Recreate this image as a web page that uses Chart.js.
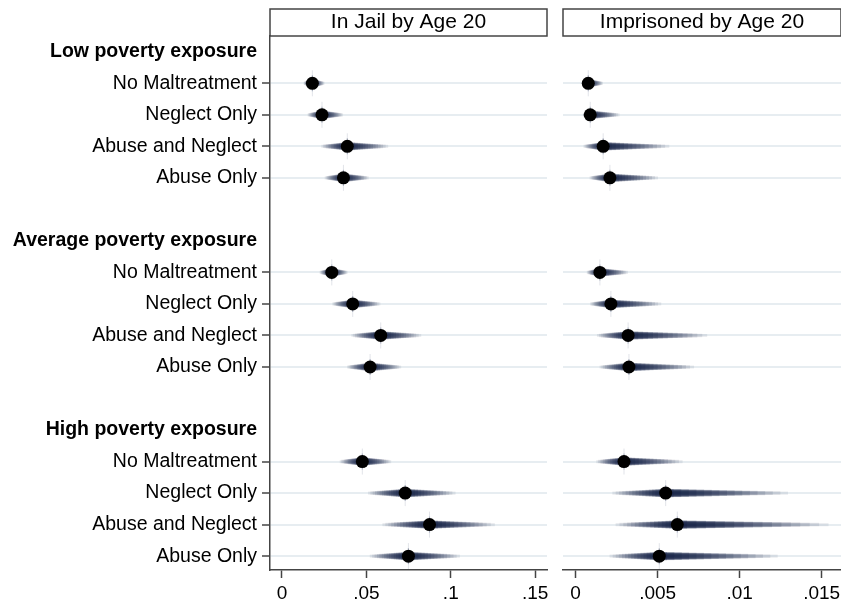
<!DOCTYPE html>
<html>
<head>
<meta charset="utf-8">
<script src="https://cdn.jsdelivr.net/npm/chart.js@4.4.0/dist/chart.umd.min.js"></script>
<style>
  html, body { margin: 0; padding: 0; background: #fff; }
  #wrap { position: relative; width: 841px; height: 605px; }
  canvas { position: absolute; top: 0; }
  #jail { left: 0; }
  #prison { left: 556px; }
</style>
</head>
<body>
<div id="wrap">
  <canvas id="jail" width="556" height="605"></canvas>
  <canvas id="prison" width="285" height="605"></canvas>
</div>

<script>
var groups = ['Low poverty exposure', 'Average poverty exposure', 'High poverty exposure'];
var types = ['No Maltreatment', 'Neglect Only', 'Abuse and Neglect', 'Abuse Only'];

// In Jail by Age 20 -- 4 types for low, average, high poverty
var jailEst = [.018, .0237, .0387, .0364,  .0295, .0419, .0585, .0522,  .0476, .073, .0874, .0749];
var jailLo  = [.013, .0154, .0235, .0255,  .0225, .030, .0413, .0387,  .0344, .0512, .0597, .0522];
var jailHi  = [.025, .036, .0627, .0512,  .0387, .0581, .0823, .0704,  .0645, .1026, .1259, .1052];

// Imprisoned by Age 20
var prisonEst = [.00077, .00089, .00168, .00209,  .00148, .00215, .0032, .00325,  .00295, .00549, .0062, .0051];
var prisonLo  = [.0004, .00046, .0005, .00087,  .0007, .0009, .00132, .00148,  .00128, .00226, .00246, .00209];
var prisonHi  = [.00165, .00266, .00569, .005,  .00317, .0052, .008, .0072,  .0065, .01293, .0154, .0123];

var jailTicks = [0, .05, .1, .15];
var jailTickLabels = ['0', '.05', '.1', '.15'];
var prisonTicks = [0, .005, .01, .015];
var prisonTickLabels = ['0', '.005', '.01', '.015'];

var font = "'Liberation Sans', Arial, sans-serif";

// rows: header, 4 types, blank gap
var rowLabels = [];
groups.forEach(function (g, gi) {
    rowLabels.push(g);
    types.forEach(function (t) { rowLabels.push(t); });
    if (gi < groups.length - 1) rowLabels.push('');
});
function rowOf(k) { return Math.floor(k / 4) * 6 + 1 + k % 4; }
function isHeader(i) { return groups.indexOf(rowLabels[i]) >= 0; }
function isDataRow(i) { return types.indexOf(rowLabels[i]) >= 0; }

// shaded spindle: nested intervals, darker and thicker toward the estimate
var nLayers = 16;

function makeDatasets(est, lo, hi) {
    var pts = est.map(function (v, k) { return { x: v, y: rowOf(k) }; });
    var ds = [];
    ds.push({ type: 'scatter', data: pts, pointRadius: 6.5, pointHoverRadius: 6.5,
        backgroundColor: '#000', borderWidth: 0, order: 0 });
    ds.push({ type: 'scatter', data: pts, pointStyle: 'line', rotation: 90, pointRadius: 8,
        borderColor: 'rgba(40,55,95,0.3)', borderWidth: 1.2, order: 1 });
    ds.push({ type: 'scatter', data: pts, pointStyle: 'line', rotation: 90, pointRadius: 13,
        borderColor: 'rgba(60,75,110,0.15)', borderWidth: 1, order: 1 });
    for (var j = 0; j < nLayers; j++) {
        var t = j / nLayers;
        var f = 1 - t;
        ds.push({
            type: 'bar', indexAxis: 'y', grouped: false, barThickness: 2.5 + 5.5 * t,
            backgroundColor: 'rgba(16,28,66,' + (0.08 + 0.16 * t).toFixed(3) + ')',
            borderWidth: 0, order: 2 + j,
            data: est.map((function (f) {
                return function (v, k) {
                    return { y: rowOf(k), x: [v - (v - lo[k]) * f, v + (hi[k] - v) * f] };
                };
            })(f))
        });
    }
    return ds;
}

var headerBox = {
    id: 'headerBox',
    afterDraw: function (chart) {
        var a = chart.chartArea, c = chart.ctx;
        c.save();
        c.strokeStyle = '#444';
        c.lineWidth = 1.5;
        c.strokeRect(a.left, a.top - 27, a.width, 27);
        c.restore();
    }
};

function makeChart(id, title, est, lo, hi, xmin, xmax, ticks, tickLabels, first) {
    var yScale = {
        type: 'linear', reverse: true, min: -0.5, max: 16.44,
        offset: false,
        afterBuildTicks: function (s) { s.ticks = rowLabels.map(function (l, i) { return { value: i }; }); },
        afterFit: function (s) { s.width = first ? 270 : 7; s.paddingTop = 0; s.paddingBottom = 0; },
        border: { display: first, color: '#444', width: 1.5 },
        grid: {
            offset: false,
            color: function (c) { return isDataRow(c.index) ? '#e7edf1' : 'rgba(0,0,0,0)'; },
            lineWidth: 2,
            drawTicks: first,
            tickLength: 8,
            tickWidth: 1.5,
            tickColor: function (c) { return isDataRow(c.index) ? '#444' : 'rgba(0,0,0,0)'; }
        },
        ticks: {
            display: first, autoSkip: false, padding: 5, color: '#000',
            font: function (c) {
                return { family: font, size: 19.5, weight: isHeader(c.index) ? 'bold' : 'normal' };
            },
            callback: function (v) { return rowLabels[v]; }
        }
    };
    return new Chart(document.getElementById(id), {
        type: 'scatter',
        data: { datasets: makeDatasets(est, lo, hi) },
        options: {
            responsive: false,
            animation: false,
            events: [],
            layout: { autoPadding: false, padding: { left: 0, right: first ? 9 : 0, top: 0, bottom: 0 } },
            plugins: {
                legend: { display: false },
                tooltip: { enabled: false },
                title: {
                    display: true, text: title, fullSize: false, color: '#000',
                    font: { family: font, size: 21, weight: 'normal', lineHeight: 27 / 21 },
                    padding: { top: 9, bottom: 0 }
                }
            },
            scales: {
                x: {
                    type: 'linear', min: xmin, max: xmax, offset: false,
                    afterBuildTicks: function (s) { s.ticks = ticks.map(function (v) { return { value: v }; }); },
                    afterFit: function (s) { s.height = 35; s.paddingLeft = 0; s.paddingRight = 0; },
                    border: { display: true, color: '#444', width: 1.5 },
                    grid: { offset: false, drawOnChartArea: false, drawTicks: true, tickLength: 8, tickColor: '#444', tickWidth: 1.5 },
                    ticks: {
                        padding: 4, color: '#000', autoSkip: false, maxRotation: 0,
                        font: { family: font, size: 19 },
                        callback: function (v, i) { return tickLabels[i]; }
                    }
                },
                y: yScale
            }
        },
        plugins: [headerBox]
    });
}

makeChart('jail', 'In Jail by Age 20', jailEst, jailLo, jailHi, -0.0071, 0.157, jailTicks, jailTickLabels, true);
makeChart('prison', 'Imprisoned by Age 20', prisonEst, prisonLo, prisonHi, -0.00077, 0.01618, prisonTicks, prisonTickLabels, false);
</script>
</body>
</html>
